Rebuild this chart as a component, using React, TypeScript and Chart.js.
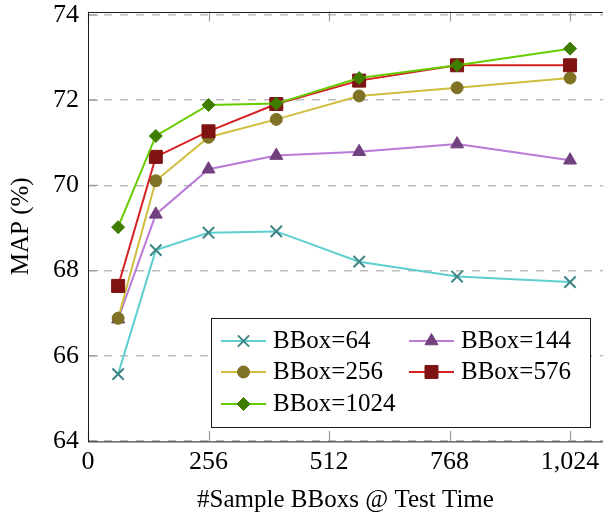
import React, { useEffect, useRef } from 'react';
import { Chart, registerables } from 'chart.js';
import { drawPoint } from 'chart.js/helpers';

Chart.register(...registerables);

// ---- data ----
const xValues = [64, 144, 256, 400, 576, 784, 1024];
const seriesLabels = ['BBox=64', 'BBox=144', 'BBox=256', 'BBox=576', 'BBox=1024'];
const bbox64 = [65.57, 68.48, 68.89, 68.92, 68.21, 67.86, 67.73];
const bbox144 = [66.86, 69.32, 70.38, 70.7, 70.79, 70.97, 70.59];
const bbox256 = [66.88, 70.11, 71.13, 71.55, 72.1, 72.29, 72.52];
const bbox576 = [67.64, 70.67, 71.27, 71.91, 72.46, 72.82, 72.82];
const bbox1024 = [69.02, 71.16, 71.89, 71.92, 72.52, 72.82, 73.21];
const xTicks = [0, 256, 512, 768, 1024];
const yTicks = [64, 66, 68, 70, 72, 74];
const xRange = [0, 1094];
const yRange = [64, 74.08];

// ---- styles ----
const seriesValues = [bbox64, bbox144, bbox256, bbox576, bbox1024];
const lineColors = ['#5ecfd0', '#b97ad8', '#d0be3e', '#d42222', '#66cc00'];
const markColors = ['#3d8585', '#70407f', '#7f7224', '#7f1313', '#3e7d00'];
const markStyles = ['crossRot', 'triangle', 'circle', 'rect', 'rectRot'];
const markRadius = [8, 7.5, 6, 9.2, 6.5];
const markBorder = [2, 1, 1, 1, 1];
const FONT = '"Liberation Serif", "DejaVu Serif", serif';
const CANVAS_W = 620;
const VIEW_W = 603;
const VIEW_H = 514;

const legendBox = { left: 211, top: 318, right: 590, bottom: 427 };
const legendSlots = [
  { x: 221, y: 341 },
  { x: 409, y: 341 },
  { x: 221, y: 372 },
  { x: 409, y: 372 },
  { x: 221, y: 404 },
];
const legendLineLen = 45;
const legendTextGap = 7;

const framePlugin = {
  id: 'frame',
  beforeDatasetsDraw(chart: any) {
    const { ctx, chartArea: a, scales } = chart;
    ctx.save();
    ctx.strokeStyle = '#9a9a9a';
    ctx.lineWidth = 1.2;
    ctx.setLineDash([]);
    for (const v of xTicks) {
      const px = Math.round(scales.x.getPixelForValue(v)) + 0.5;
      ctx.beginPath();
      ctx.moveTo(px, a.top);
      ctx.lineTo(px, a.top + 10);
      ctx.moveTo(px, a.bottom);
      ctx.lineTo(px, a.bottom - 10);
      ctx.stroke();
    }
    for (const v of yTicks) {
      const py = scales.y.getPixelForValue(v);
      ctx.beginPath();
      ctx.moveTo(a.left, py);
      ctx.lineTo(a.left + 10, py);
      ctx.stroke();
    }
    ctx.strokeStyle = '#1a1a1a';
    ctx.lineWidth = 1;
    ctx.strokeRect(Math.round(a.left) + 0.5, Math.round(a.top) + 0.5, a.right - a.left, a.bottom - a.top);
    ctx.restore();
  },
};

const legendPlugin = {
  id: 'insideLegend',
  afterDatasetsDraw(chart: any) {
    const { ctx } = chart;
    ctx.save();
    ctx.fillStyle = '#ffffff';
    ctx.fillRect(legendBox.left, legendBox.top, legendBox.right - legendBox.left, legendBox.bottom - legendBox.top);
    ctx.strokeStyle = '#1a1a1a';
    ctx.lineWidth = 1;
    ctx.strokeRect(legendBox.left + 0.5, legendBox.top + 0.5, legendBox.right - legendBox.left, legendBox.bottom - legendBox.top);
    chart.data.datasets.forEach((ds: any, i: number) => {
      const slot = legendSlots[i];
      ctx.strokeStyle = ds.borderColor;
      ctx.lineWidth = 2;
      ctx.beginPath();
      ctx.moveTo(slot.x, slot.y);
      ctx.lineTo(slot.x + legendLineLen, slot.y);
      ctx.stroke();
      ctx.fillStyle = ds.pointBackgroundColor;
      ctx.strokeStyle = ds.pointBorderColor;
      ctx.lineWidth = ds.pointBorderWidth;
      drawPoint(ctx, { pointStyle: ds.pointStyle, radius: ds.pointRadius, rotation: 0, borderWidth: ds.pointBorderWidth } as any, slot.x + legendLineLen / 2, slot.y);
      ctx.fillStyle = '#000';
      ctx.font = `25px ${FONT}`;
      ctx.textBaseline = 'middle';
      ctx.textAlign = 'left';
      ctx.fillText(ds.label, slot.x + legendLineLen + legendTextGap, slot.y);
    });
    ctx.restore();
  },
};

export default function App() {
  const ref = useRef<HTMLCanvasElement>(null);
  useEffect(() => {
    const chart = new Chart(ref.current!, {
      type: 'line',
      data: {
        datasets: seriesValues.map((vals, i) => ({
          label: seriesLabels[i],
          data: xValues.map((x, j) => ({ x, y: vals[j] })),
          borderColor: lineColors[i],
          backgroundColor: markColors[i],
          pointBackgroundColor: markColors[i],
          pointBorderColor: markColors[i],
          pointStyle: markStyles[i] as any,
          pointRadius: markRadius[i],
          pointBorderWidth: markBorder[i],
          borderWidth: 2,
          tension: 0,
          order: 4 - i,
          clip: false as any,
        })),
      },
      options: {
        animation: false,
        responsive: false,
        devicePixelRatio: 1,
        layout: { padding: { top: 11, right: CANVAS_W - VIEW_W, bottom: 0, left: 0 } },
        plugins: { legend: { display: false }, tooltip: { enabled: false } },
        scales: {
          x: {
            type: 'linear',
            min: xRange[0],
            max: xRange[1],
            afterBuildTicks: (s: any) => {
              s.ticks = xTicks.map((v) => ({ value: v }));
            },
            afterFit: (s: any) => {
              s.height = 73;
            },
            grid: { display: false },
            border: { display: false },
            ticks: {
              color: '#000',
              padding: 0,
              maxRotation: 0,
              autoSkip: false,
              font: { family: FONT, size: 26, lineHeight: 1 },
              callback: (v: any) => Number(v).toLocaleString('en-US'),
            },
            title: {
              display: true,
              text: '#Sample BBoxs @ Test Time',
              color: '#000',
              font: { family: FONT, size: 25, lineHeight: 1 },
              padding: { top: 0, bottom: 1 },
            },
          },
          y: {
            type: 'linear',
            min: yRange[0],
            max: yRange[1],
            afterBuildTicks: (s: any) => {
              s.ticks = yTicks.map((v) => ({ value: v }));
            },
            afterFit: (s: any) => {
              s.width = 88;
            },
            grid: { color: '#bcbcbc', lineWidth: 1.5, drawTicks: false },
            border: { display: false, dash: [8, 8] },
            ticks: {
              color: '#000',
              padding: 9,
              font: { family: FONT, size: 26, lineHeight: 0.2 },
            },
            title: {
              display: true,
              text: 'MAP (%)',
              color: '#000',
              font: { family: FONT, size: 25, lineHeight: 1 },
              padding: { top: 9, bottom: 0 },
            },
          },
        },
      },
      plugins: [framePlugin, legendPlugin],
    });
    return () => chart.destroy();
  }, []);
  return (
    <div style={{ position: 'absolute', left: 0, top: 0, width: VIEW_W, height: VIEW_H, overflow: 'hidden' }}>
      <canvas ref={ref} width={CANVAS_W} height={VIEW_H} style={{ display: 'block' }} />
    </div>
  );
}
